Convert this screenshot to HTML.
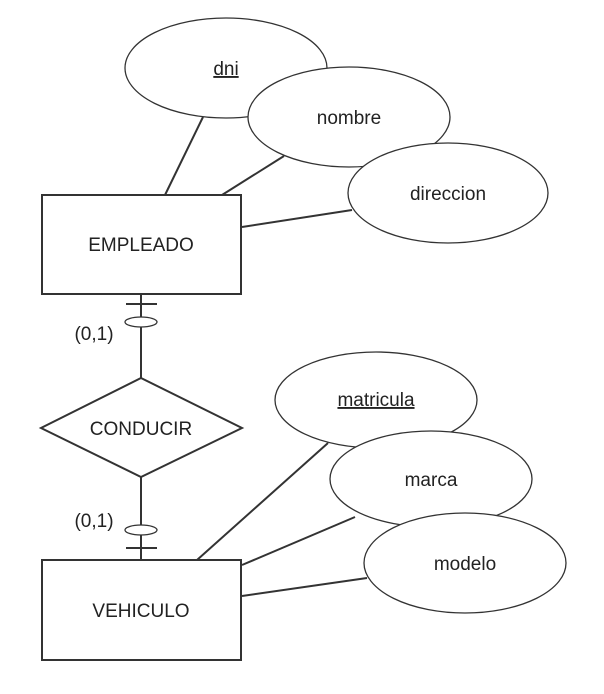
<!DOCTYPE html>
<html><head><style>html,body{margin:0;padding:0;background:#fff;}svg{display:block}</style></head>
<body>
<svg width="604" height="694" xmlns="http://www.w3.org/2000/svg" font-family="Liberation Sans, sans-serif" font-size="19" fill="#222">
<g stroke="#333" stroke-width="2" fill="none">
<line x1="165" y1="195" x2="203" y2="117"/>
<line x1="222" y1="195" x2="284" y2="156"/>
<line x1="242" y1="227" x2="352" y2="210"/>
<line x1="197" y1="560" x2="328" y2="443"/>
<line x1="242" y1="565" x2="355" y2="517"/>
<line x1="242" y1="596" x2="367" y2="578"/>
<line x1="141" y1="294" x2="141" y2="378"/>
<line x1="141" y1="477" x2="141" y2="560"/>
<line x1="126" y1="304" x2="157" y2="304"/>
<line x1="126" y1="548" x2="157" y2="548"/>
</g>
<g stroke="#333" stroke-width="1.3" fill="#fff">
<ellipse cx="141" cy="322" rx="16" ry="5"/>
<ellipse cx="141" cy="530" rx="16" ry="5"/>
<ellipse cx="226" cy="68" rx="101" ry="50"/>
<ellipse cx="349" cy="117" rx="101" ry="50"/>
<ellipse cx="448" cy="193" rx="100" ry="50"/>
<ellipse cx="376" cy="400" rx="101" ry="48"/>
<ellipse cx="431" cy="479" rx="101" ry="48"/>
<ellipse cx="465" cy="563" rx="101" ry="50"/>
<polygon points="141,378 242,428 141,477 41,428" stroke-width="2"/>
</g>
<g stroke="#333" stroke-width="2" fill="none">
<rect x="42" y="195" width="199" height="99"/>
<rect x="42" y="560" width="199" height="100"/>
</g>
<g text-anchor="middle" stroke="none">
<text x="226" y="75" text-decoration="underline">dni</text>
<text x="349" y="124">nombre</text>
<text x="448" y="200">direccion</text>
<text x="376" y="406" text-decoration="underline">matricula</text>
<text x="431" y="486">marca</text>
<text x="465" y="570">modelo</text>
<text x="141" y="251">EMPLEADO</text>
<text x="141" y="435">CONDUCIR</text>
<text x="141" y="617">VEHICULO</text>
<text x="94" y="340">(0,1)</text>
<text x="94" y="527">(0,1)</text>
</g>
</svg>
</body></html>
